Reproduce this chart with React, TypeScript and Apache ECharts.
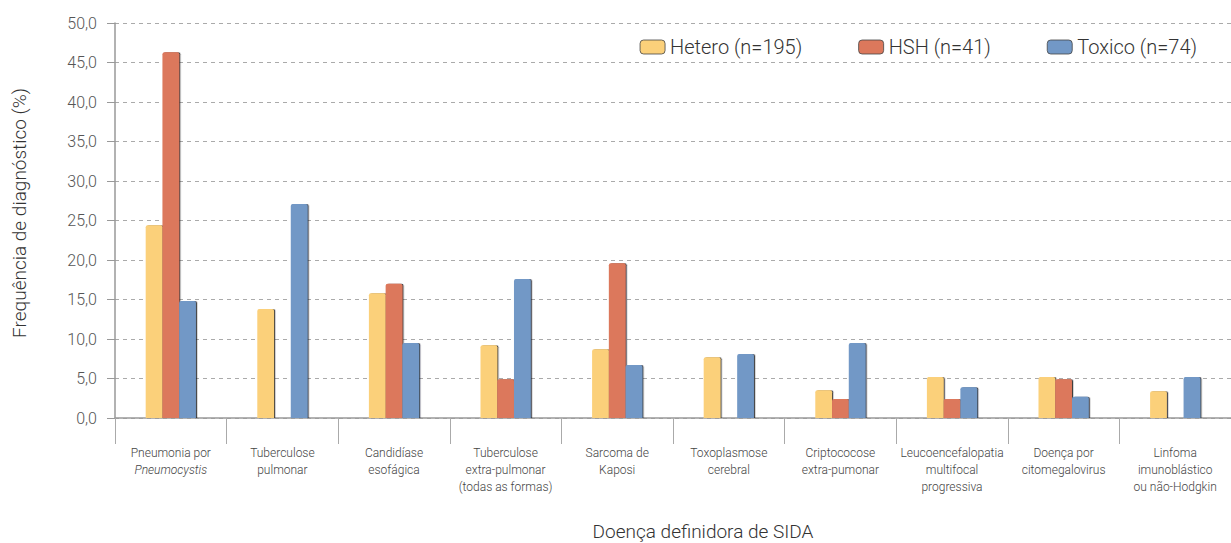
import React, { useEffect, useRef } from "react";
import * as echarts from "echarts";

const categories = [
  "Pneumonia por\n{i|Pneumocystis}",
  "Tuberculose\npulmonar",
  "Candidíase\nesofágica",
  "Tuberculose\nextra-pulmonar\n(todas as formas)",
  "Sarcoma de\nKaposi",
  "Toxoplasmose\ncerebral",
  "Criptococose\nextra-pumonar",
  "Leucoencefalopatia\nmultifocal\nprogressiva",
  "Doença por\ncitomegalovirus",
  "Linfoma\nimunoblástico\nou não-Hodgkin",
];
const hetero = [24.4, 13.8, 15.8, 9.2, 8.7, 7.7, 3.5, 5.2, 5.2, 3.4];
const hsh = [46.3, 0, 17.0, 4.9, 19.6, 0, 2.4, 2.4, 4.9, 0];
const toxico = [14.8, 27.1, 9.5, 17.6, 6.7, 8.1, 9.5, 3.9, 2.7, 5.2];
const seriesNames = ["Hetero (n=195)", "HSH (n=41)", "Toxico (n=74)"];
const colors = ["#FBD07A", "#DC785C", "#7298C6"];

export default function App() {
  const ref = useRef<HTMLDivElement>(null);
  useEffect(() => {
    document.body.style.margin = "0";
    const chart = echarts.init(ref.current!, undefined, { renderer: "svg" });
    const font = "Roboto, 'Liberation Sans', sans-serif";
    const mk = (name: string, data: number[], color: string) => ({
      name,
      type: "bar",
      data: data.map((v) => (v === 0 ? null : v)),
      barGap: "0%",
      barCategoryGap: "55%",
      itemStyle: {
        color,
        borderRadius: [2, 2, 0, 0],
        shadowColor: "rgba(20,20,30,0.85)",
        shadowOffsetX: 1.2,
        shadowOffsetY: 0,
        shadowBlur: 0,
      },
    });
    chart.setOption({
      animation: false,
      textStyle: { fontFamily: font, fontWeight: 300 },
      legend: {
        top: 32,
        right: 29,
        itemWidth: 25,
        itemHeight: 14,
        itemGap: 56,
        textStyle: { fontSize: 20, color: "#333", fontFamily: font, fontWeight: 300 },
        data: seriesNames,
        itemStyle: { borderColor: "#444", borderWidth: 0.8 },
      },
      grid: { left: 115, right: 0, top: 23, bottom: 125, outerBoundsMode: "none", containLabel: false },
      xAxis: {
        type: "category",
        data: categories,
        name: "Doença definidora de SIDA",
        nameLocation: "middle",
        nameGap: 104,
        nameTextStyle: { fontSize: 19, color: "#333", fontWeight: 300, padding: [0, 0, 0, 60] },
        axisLine: { lineStyle: { color: "#999", width: 1.5 } },
        axisTick: { show: true, length: 26, lineStyle: { color: "#aaa" } },
        axisLabel: {
          interval: 0,
          margin: 26,
          fontSize: 12,
          lineHeight: 17,
          color: "#444",
          fontWeight: 300,
          rich: { i: { fontStyle: "italic", fontSize: 12, color: "#444", lineHeight: 17, fontWeight: 300 } },
        },
      },
      yAxis: {
        type: "value",
        min: 0,
        max: 50,
        interval: 5,
        name: "Frequência de diagnóstico (%)",
        nameLocation: "middle",
        nameGap: 86,
        nameRotate: 90,
        nameTextStyle: { fontSize: 19, color: "#333", fontWeight: 300, padding: [0, 0, 0, 15] },
        axisLine: { show: true, lineStyle: { color: "#999", width: 1.5 } },
        axisTick: { show: true, length: 8, lineStyle: { color: "#999" } },
        axisLabel: {
          fontSize: 16,
          color: "#555",
          fontWeight: 300,
          margin: 18,
          formatter: (v: number) => v.toFixed(1).replace(".", ","),
        },
        splitLine: { lineStyle: { color: "#aaa", type: [4, 4] } },
      },
      series: [
        mk(seriesNames[0], hetero, colors[0]),
        mk(seriesNames[1], hsh, colors[1]),
        mk(seriesNames[2], toxico, colors[2]),
      ],
    });
    return () => chart.dispose();
  }, []);
  return <div ref={ref} style={{ width: 1231, height: 543 }} />;
}
